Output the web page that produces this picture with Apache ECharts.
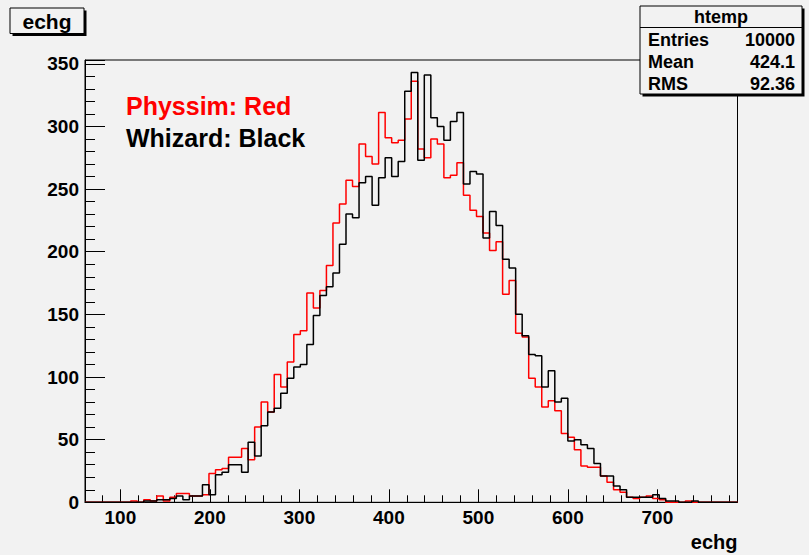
<!DOCTYPE html>
<html><head><meta charset="utf-8">
<script src="https://cdn.jsdelivr.net/npm/echarts@6/dist/echarts.min.js"></script>
<style>html,body{margin:0;padding:0;background:#f2f2f2}#c{width:809px;height:555px}</style>
</head><body><div id="c"></div>
<script>
// ---- data ----
const xMin = 60.5;
const xMax = 789.5;
const nBins = 100;
const yMax = 353;
const physsim = [
  0,0,0,0,0,0,0,1,0,2,
  1,5,1,4,7,7,5,5,6,23,
  26,27,36,36,43,34,60,80,72,102,
  92,112,134,137,167,155,169,189,223,238,
  257,252,286,276,270,311,291,287,289,306,
  336,282,275,290,286,259,261,271,245,233,
  228,215,201,208,166,177,135,132,99,92,
  76,81,73,55,52,42,29,28,28,21,
  16,10,8,4,3,4,5,3,2,0,
  0,0,1,0,0,0,0,0,0,0
];
const whizard = [
  0,0,0,0,0,0,0,0,0,1,
  1,2,2,3,5,2,5,5,14,6,
  22,24,30,30,24,48,37,61,72,75,
  87,99,108,110,126,149,165,172,183,206,
  230,227,255,260,237,259,275,260,272,328,
  343,273,341,307,300,289,304,311,254,264,
  262,211,232,221,194,187,150,133,118,117,
  92,105,80,83,49,50,46,43,31,21,
  21,13,10,4,4,4,4,6,3,1,
  1,0,0,1,0,0,0,0,0,0
];
const statsRows = [["Entries","10000"],["Mean","424.1"],["RMS","92.36"]];

const binW = (xMax - xMin) / nBins;
function steps(vals){
  const out = vals.map((v,i)=>[xMin + i*binW, v]);
  out.push([xMax, vals[vals.length-1]]);
  return out;
}
const FONT = "'Liberation Sans', Arial, Helvetica, sans-serif";

const chart = echarts.init(document.getElementById('c'), null, {renderer:'svg'});
const statsGraphics = [
  {type:'rect', shape:{x:642.5,y:8.5,width:162,height:88}, style:{fill:'#000'}},
  {type:'rect', shape:{x:640,y:6,width:162,height:88}, style:{fill:'#f2f2f2',stroke:'#000',lineWidth:1}},
  {type:'line', shape:{x1:640,y1:27.5,x2:802,y2:27.5}, style:{stroke:'#000',lineWidth:1}},
  {type:'text', x:721, y:17, style:{text:'htemp', font:'bold 18px '+FONT, fill:'#000', align:'center', verticalAlign:'middle'}}
];
statsRows.forEach((r,i)=>{
  const y = 40 + i*22;
  statsGraphics.push({type:'text', x:648, y:y, style:{text:r[0], font:'bold 18px '+FONT, fill:'#000', align:'left', verticalAlign:'middle'}});
  statsGraphics.push({type:'text', x:795, y:y, style:{text:r[1], font:'bold 18px '+FONT, fill:'#000', align:'right', verticalAlign:'middle'}});
});

chart.setOption({
  backgroundColor:'#f2f2f2',
  animation:false,
  grid:{left:85, top:60, width:652.5, height:442.3, show:true, borderColor:'#000', borderWidth:1, backgroundColor:'transparent', containLabel:false},
  xAxis:{
    type:'value', min:xMin, max:xMax, splitNumber:7,
    name:'echg', nameLocation:'end', nameGap:0,
    nameTextStyle:{font:'bold 20px '+FONT, fontWeight:'bold', fontSize:20, fontFamily:FONT, color:'#000', align:'right', verticalAlign:'top', padding:[30,0,0,0]},
    axisLine:{show:true, lineStyle:{color:'#000', width:1}},
    axisTick:{show:true, inside:true, length:13, lineStyle:{color:'#000'}},
    minorTick:{show:true, splitNumber:5, length:7, lineStyle:{color:'#000'}},
    splitLine:{show:false},
    axisLabel:{showMinLabel:false, showMaxLabel:false, margin:6, color:'#000', fontWeight:'bold', fontSize:19, fontFamily:FONT,
      formatter:v=> (Math.abs(v % 100) < 1e-6 ? String(v) : '')}
  },
  yAxis:{
    type:'value', min:0, max:yMax, interval:50,
    axisLine:{show:true, lineStyle:{color:'#000', width:1}},
    axisTick:{show:true, inside:true, length:20, lineStyle:{color:'#000'}},
    minorTick:{show:true, splitNumber:5, length:10, lineStyle:{color:'#000'}},
    splitLine:{show:false},
    axisLabel:{showMaxLabel:false, margin:6, color:'#000', fontWeight:'bold', fontSize:19, fontFamily:FONT,
      formatter:v=> (Math.abs(v % 50) < 1e-6 ? String(v) : '')}
  },
  graphic:[
    {type:'rect', shape:{x:12.5,y:10.5,width:74,height:25.5}, style:{fill:'#000'}},
    {type:'rect', shape:{x:10,y:8,width:74,height:25.5}, style:{fill:'#f2f2f2',stroke:'#000',lineWidth:1}},
    {type:'text', x:47, y:21, style:{text:'echg', font:'bold 21px '+FONT, fill:'#000', align:'center', verticalAlign:'middle'}},
    {type:'text', x:126, y:106, style:{text:'Physsim: Red', font:'bold 25px '+FONT, fill:'#ff0000', align:'left', verticalAlign:'middle'}},
    {type:'text', x:126, y:138, style:{text:'Whizard: Black', font:'bold 25px '+FONT, fill:'#000', align:'left', verticalAlign:'middle'}}
  ].concat(statsGraphics),
  series:[
    {name:'Physsim', type:'line', step:'end', data:steps(physsim), showSymbol:false, symbol:'none',
      lineStyle:{color:'#ff0000', width:1.5}, itemStyle:{color:'#ff0000'}, z:2},
    {name:'Whizard', type:'line', step:'end', data:steps(whizard), showSymbol:false, symbol:'none',
      lineStyle:{color:'#000', width:1.5}, itemStyle:{color:'#000'}, z:3}
  ]
});
</script></body></html>
